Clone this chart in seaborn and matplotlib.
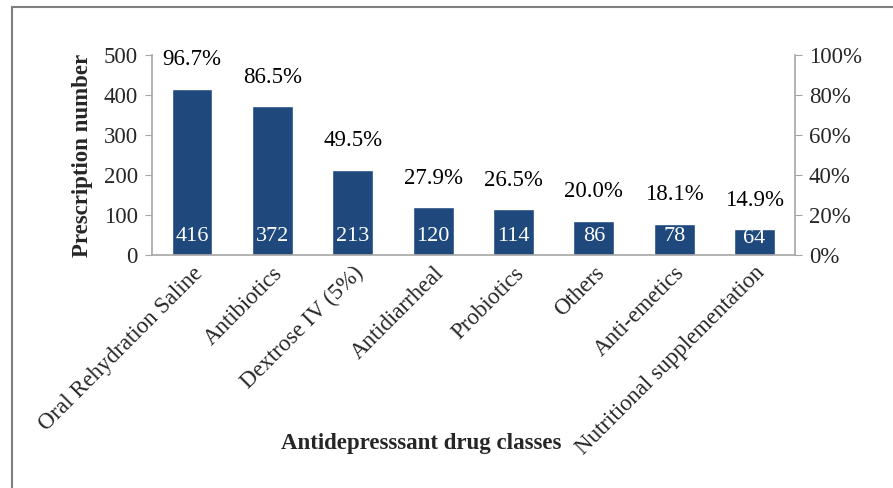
import matplotlib
matplotlib.use("Agg")
import matplotlib.pyplot as plt
import seaborn as sns
import pandas as pd
from matplotlib.patches import Rectangle
from matplotlib.ticker import PercentFormatter

drug_classes = ["Oral Rehydration Saline", "Antibiotics", "Dextrose IV (5%)",
                "Antidiarrheal", "Probiotics", "Others", "Anti-emetics",
                "Nutritional supplementation"]
prescriptions = [416, 372, 213, 120, 114, 86, 78, 64]
percentages = [96.7, 86.5, 49.5, 27.9, 26.5, 20.0, 18.1, 14.9]

df = pd.DataFrame({"drug_class": drug_classes, "count": prescriptions})

sns.set_style("white")
plt.rcParams["font.family"] = ["Liberation Serif", "DejaVu Serif"]

fig = plt.figure(figsize=(8.93, 4.88), dpi=100)
ax = fig.add_axes([0.170, 0.4775, 0.720, 0.41])

sns.barplot(data=df, x="drug_class", y="count", color="#1F497D",
            width=0.51, saturation=1, ax=ax)
ax.set_ylim(0, 500)
ax.set_yticks(range(0, 501, 100))
ax.set_xlim(-0.5, len(drug_classes) - 0.5)

fs = 16.5
# counts inside bars, percentages above
for i, (n, p) in enumerate(zip(prescriptions, percentages)):
    ax.text(i, min(47, n - 24), str(n), ha="center", va="center",
            color="white", fontsize=16)
    ax.text(i, n + 72, f"{p:.1f}%", ha="center", va="center",
            color="black", fontsize=fs)

gray = "#A6A6A6"
for s in ["top", "right"]:
    ax.spines[s].set_visible(False)
ax.spines["left"].set_color(gray)
ax.spines["bottom"].set_color(gray)
ax.spines["left"].set_linewidth(1.2)
ax.spines["bottom"].set_linewidth(1.2)
ax.tick_params(axis="y", left=True, length=5, color=gray, labelsize=fs, pad=5)
ax.tick_params(axis="x", bottom=False, labelsize=fs, pad=2)
plt.setp(ax.get_xticklabels(), rotation=45, ha="right", rotation_mode="anchor")

ax.set_ylabel("Prescription number", fontsize=fs, fontweight="bold", labelpad=8)
ax.set_xlabel("")
fig.text(0.472, 0.092, "Antidepresssant drug classes", ha="center", va="center",
         fontsize=fs, fontweight="bold")

ax2 = ax.twinx()
ax2.set_ylim(0, 1)
ax2.set_yticks([0, 0.2, 0.4, 0.6, 0.8, 1.0])
ax2.yaxis.set_major_formatter(PercentFormatter(1.0, decimals=0))
for s in ["top", "left", "bottom"]:
    ax2.spines[s].set_visible(False)
ax2.spines["right"].set_color(gray)
ax2.spines["right"].set_linewidth(1.2)
ax2.tick_params(axis="y", right=True, length=5, color=gray, labelsize=fs, pad=5)

fig.patches.append(Rectangle((12 / 893, -0.1), 1.2, 1.1 - 7 / 488,
                             transform=fig.transFigure, fill=False,
                             edgecolor="#7F7F7F", linewidth=1.5))

fig.savefig("out.png", dpi=100)
